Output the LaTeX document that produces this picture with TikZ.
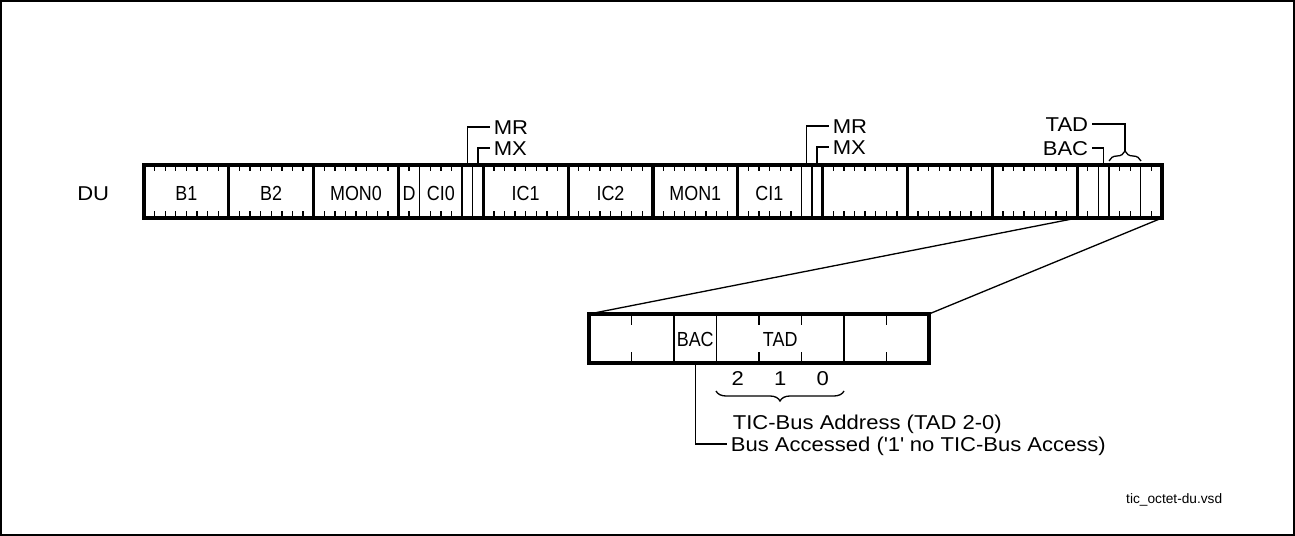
\documentclass[tikz,border=0pt]{standalone}
\usepackage{fontspec}
\setmainfont{Liberation Sans}
\newfontfamily\fieldfont[FakeStretch=0.88]{Liberation Sans}
\newfontfamily\notefont[FakeStretch=1.1]{Liberation Sans}
\usetikzlibrary{calc,decorations.pathreplacing}

\begin{document}
\begin{tikzpicture}[x=0.02cm, y=-0.02cm,
    octet/.style={draw, line width=1.8pt, minimum width=1.6966cm, minimum height=1.06cm, inner sep=0pt, outer sep=0pt},
    zoombox/.style={draw, line width=1.8pt, minimum width=6.8cm, minimum height=0.98cm, inner sep=0pt, outer sep=0pt},
    bitline/.style={line width=0.75pt},
    tick/.style={line width=0.75pt},
    field/.style={font=\fieldfont\fontsize{11.6}{13}\selectfont, inner sep=0pt, text height=8.3pt, text depth=0.1pt},
    note/.style={font=\notefont\fontsize{11.4}{13}\selectfont, inner sep=2pt, text height=8.1pt, text depth=0.1pt},
    leader/.style={line width=0.75pt},
    brace_up/.style={decorate, decoration={brace, amplitude=0.2cm}, line width=0.75pt},
    brace_dn/.style={decorate, decoration={brace, amplitude=0.2cm, mirror}, line width=0.75pt}
]
\useasboundingbox (0,0) rectangle (1295,536);
\draw[line width=0.8pt] (1,1) rectangle (1294,535);

% DU frame: 12 octets
\foreach \i in {0,...,11}
  \node[octet] (o\i) at ({186.42+\i*84.83},191.5) {};

% bit ticks
\foreach \i in {0,1,2,4,5,6,8,9,10}
  \foreach \k in {1,...,7}
    \draw[tick] ({144+(8*\i+\k)*10.604},165) -- ++(0,6.5) ({144+(8*\i+\k)*10.604},218) -- ++(0,-6.5);
\foreach \i/\k in {3/1,3/3,3/4,3/5,7/1,7/2,7/3,7/4,7/5,11/1,11/4,11/5,11/7}
  \draw[tick] ({144+(8*\i+\k)*10.604},165) -- ++(0,6.5) ({144+(8*\i+\k)*10.604},218) -- ++(0,-6.5);
% field borders
\foreach \i/\k in {3/2,3/6,3/7,7/6,7/7,11/2,11/3,11/6}
  \draw[bitline] ({144+(8*\i+\k)*10.604},165) -- ({144+(8*\i+\k)*10.604},218);

% field names
\node[note, anchor=east] (du) at (113,193) {DU};
\node[field] (b1) at (186.4,193.5) {B1};
\node[field] (b2) at (271.2,193.5) {B2};
\node[field] (mon0) at (356.0,193.5) {MON0};
\node[field] (d) at (409.0,193.5) {D};
\node[field] (ci0) at (440.8,193.5) {CI0};
\node[field] (ic1) at (525.6,193.5) {IC1};
\node[field] (ic2) at (610.5,193.5) {IC2};
\node[field] (mon1) at (695.3,193.5) {MON1};
\node[field] (ci1) at (769.4,193.5) {CI1};

% MR / MX bits
\coordinate (mr_a_bit) at (467.3,165);
\coordinate (mx_a_bit) at (477.9,165);
\coordinate (mr_b_bit) at (806.5,165);
\coordinate (mx_b_bit) at (817.1,165);
\node[note, anchor=west] (mr_a) at (490,127) {MR};
\node[note, anchor=west] (mx_a) at (490,148) {MX};
\node[note, anchor=west] (mr_b) at (829,126) {MR};
\node[note, anchor=west] (mx_b) at (829,147) {MX};
\draw[leader] (mr_a_bit) |- (mr_a.west);
\draw[leader] (mx_a_bit) |- (mx_a.west);
\draw[leader] (mr_b_bit) |- (mr_b.west);
\draw[leader] (mx_b_bit) |- (mx_b.west);

% BAC / TAD in last octet
\coordinate (bac_bit) at (1103.7,165);
\coordinate (tad_tip) at (1125,151);
\node[note, anchor=east] (bac_a) at (1092,148) {BAC};
\node[note, anchor=east] (tad_a) at (1092,124) {TAD};
\draw[brace_up] (1109,161) -- (1141,161);
\draw[leader] (bac_bit) |- (bac_a.east);
\draw[leader] (tad_tip) |- (tad_a.east);

% expanded octet
\node[zoombox] (xbox) at (759,338.5) {};
\draw[leader] (o11.south west) -- (xbox.north west);
\draw[leader] (o11.south east) -- (xbox.north east);
\foreach \k in {2,3,6}
  \draw[bitline] ({589+\k*42.5},314) -- ({589+\k*42.5},363);
\foreach \k in {1,4,5,7}
  \draw[tick] ({589+\k*42.5},314) -- ++(0,11) ({589+\k*42.5},363) -- ++(0,-11);
\node[field] (bac_x) at (695.25,339.5) {BAC};
\node[field] (tad_x) at (780.25,339.5) {TAD};
\node[note] (n2) at (737.75,378) {2};
\node[note] (n1) at (780.25,378) {1};
\node[note] (n0) at (822.75,378) {0};
\draw[brace_dn] (716,391) -- (844,391);

\node[note, anchor=west] (tad_txt) at (729,422.5) {TIC-Bus Address (TAD 2-0)};
\node[note, anchor=west] (bac_txt) at (727,444) {Bus Accessed (\textquotesingle 1\textquotesingle\ no TIC-Bus Access)};
\draw[leader] (bac_x |- xbox.south) |- (bac_txt.west);

\node[font=\fontsize{7.8}{9}\selectfont, anchor=west] (file) at (1120,500) {tic\_octet-du.vsd};
\end{tikzpicture}
\end{document}
